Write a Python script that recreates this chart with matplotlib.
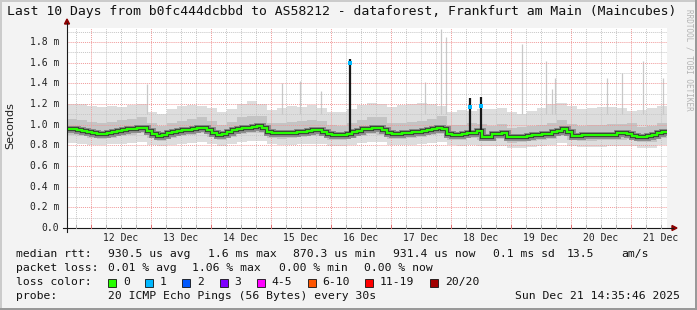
import numpy as np
import matplotlib
matplotlib.use("Agg")
import matplotlib.pyplot as plt
from matplotlib.patches import Rectangle, Polygon
from matplotlib.transforms import offset_copy

# ---------------- data ----------------
# median rtt in ms, 2-hour steps from Dec 11 14:35:46
median_ms = [0.958, 0.955, 0.945, 0.937, 0.928, 0.918, 0.908, 0.912, 0.922, 0.932,
             0.940, 0.948, 0.954, 0.957, 0.970, 0.970, 0.940, 0.907, 0.890, 0.903,
             0.920, 0.930, 0.939, 0.946, 0.952, 0.958, 0.965, 0.972, 0.950, 0.918,
             0.900, 0.912, 0.928, 0.946, 0.960, 0.966, 0.971, 0.979, 0.988, 0.965,
             0.932, 0.916, 0.915, 0.916, 0.919, 0.924, 0.929, 0.934, 0.939, 0.946,
             0.953, 0.933, 0.910, 0.902, 0.899, 0.899, 0.910, 0.930, 0.943, 0.955,
             0.961, 0.968, 0.972, 0.948, 0.920, 0.910, 0.909, 0.915, 0.921, 0.928,
             0.933, 0.940, 0.950, 0.962, 0.966, 0.962, 0.907, 0.905, 0.905, 0.908,
             0.920, 0.924, 0.935, 0.882, 0.885, 0.910, 0.914, 0.916, 0.880, 0.877,
             0.879, 0.885, 0.892, 0.898, 0.903, 0.908, 0.912, 0.925, 0.940, 0.954,
             0.925, 0.895, 0.891, 0.897, 0.899, 0.899, 0.902, 0.905, 0.905, 0.905,
             0.918, 0.921, 0.912, 0.891, 0.881, 0.882, 0.894, 0.904, 0.918, 0.930]

# smoke envelope in ms, 4-hour steps
smoke_top = [1.20, 1.20, 1.18, 1.17, 1.18, 1.17, 1.19, 1.20, 1.12, 1.10,
             1.15, 1.18, 1.19, 1.18, 1.16, 1.12, 1.15, 1.20, 1.23, 1.20,
             1.14, 1.16, 1.18, 1.17, 1.19, 1.16, 1.12, 1.12, 1.15, 1.19,
             1.21, 1.20, 1.17, 1.19, 1.20, 1.21, 1.20, 1.18, 1.12, 1.14,
             1.13, 1.15, 1.15, 1.16, 1.12, 1.10, 1.13, 1.16, 1.20, 1.21,
             1.18, 1.15, 1.16, 1.17, 1.17, 1.16, 1.13, 1.14, 1.16, 1.18]
smoke_upper = [1.06, 1.05, 1.03, 1.02, 1.03, 1.05, 1.06, 1.07, 1.02, 0.99,
               1.02, 1.04, 1.06, 1.07, 1.04, 1.00, 1.03, 1.07, 1.08, 1.08,
               1.02, 1.02, 1.03, 1.04, 1.05, 1.04, 1.00, 0.99, 1.02, 1.05,
               1.07, 1.07, 1.02, 1.02, 1.03, 1.04, 1.06, 1.08, 1.00, 1.00,
               1.02, 1.01, 0.99, 1.01, 0.97, 0.98, 0.99, 1.00, 1.02, 1.05,
               1.01, 0.99, 1.00, 1.00, 1.01, 1.01, 1.02, 0.98, 0.99, 1.02]
smoke_lower = [0.900, 0.890, 0.875, 0.860, 0.875, 0.890, 0.900, 0.915, 0.870, 0.845,
               0.870, 0.890, 0.900, 0.915, 0.880, 0.855, 0.885, 0.910, 0.920, 0.920,
               0.870, 0.865, 0.870, 0.880, 0.890, 0.890, 0.855, 0.850, 0.870, 0.895,
               0.910, 0.905, 0.865, 0.860, 0.870, 0.885, 0.900, 0.910, 0.855, 0.855,
               0.870, 0.855, 0.845, 0.860, 0.825, 0.830, 0.840, 0.850, 0.865, 0.895,
               0.855, 0.840, 0.845, 0.850, 0.850, 0.855, 0.860, 0.835, 0.835, 0.870]
smoke_bottom = [0.820, 0.810, 0.800, 0.800, 0.810, 0.815, 0.820, 0.830, 0.800, 0.790,
                0.800, 0.810, 0.820, 0.830, 0.810, 0.790, 0.810, 0.830, 0.840, 0.840,
                0.810, 0.800, 0.800, 0.810, 0.815, 0.815, 0.790, 0.790, 0.800, 0.820,
                0.830, 0.830, 0.800, 0.800, 0.800, 0.810, 0.820, 0.830, 0.800, 0.790,
                0.800, 0.790, 0.790, 0.790, 0.770, 0.770, 0.780, 0.790, 0.800, 0.820,
                0.790, 0.780, 0.780, 0.780, 0.790, 0.790, 0.790, 0.770, 0.770, 0.800]

# isolated single-ping outliers (hours after start, ms)
spike_hours = [32.0, 86.0, 93.2, 101.6, 143.2, 149.6, 151.6, 182.0, 191.6,
               194.0, 195.2, 216.0, 222.0, 230.4, 238.4]
spike_top_ms = [1.39, 1.40, 1.42, 1.33, 1.41, 1.93, 1.85, 1.78, 1.62,
                1.35, 1.45, 1.45, 1.50, 1.62, 1.45]

# short bursts where the median itself jumped (1 lost ping -> blue)
burst_hours = [113.0, 161.2, 165.6]
burst_median_ms = [1.60, 1.17, 1.18]
burst_top_ms = [1.64, 1.26, 1.27]
burst_base_ms = [0.93, 0.93, 0.95]

day_labels = ["12 Dec", "13 Dec", "14 Dec", "15 Dec", "16 Dec",
              "17 Dec", "18 Dec", "19 Dec", "20 Dec", "21 Dec"]
ytick_vals = [0.0, 0.2, 0.4, 0.6, 0.8, 1.0, 1.2, 1.4, 1.6, 1.8]
ytick_labels = ["0.0", "0.2 m", "0.4 m", "0.6 m", "0.8 m", "1.0 m",
                "1.2 m", "1.4 m", "1.6 m", "1.8 m"]

title = "Last 10 Days from b0fc444dcbbd to AS58212 - dataforest, Frankfurt am Main (Maincubes)"
rtt_items = ["median rtt:", "930.5 us avg", "1.6 ms max", "870.3 us min",
             "931.4 us now", "0.1 ms sd", "13.5", "am/s"]
loss_items = ["packet loss:", "0.01 % avg", "1.06 % max", "0.00 % min", "0.00 % now"]
loss_labels = ["0", "1", "2", "3", "4-5", "6-10", "11-19", "20/20"]
loss_colors = ["#26ff00", "#00b8ff", "#0059ff", "#7e00ff", "#ff00ff",
               "#ff5500", "#ff0000", "#a10000"]
probe_text = "20 ICMP Echo Pings (56 Bytes) every 30s"
stamp_text = "Sun Dec 21 14:35:46 2025"

# ---------------- layout ----------------
W, H = 697, 310
MONO = "DejaVu Sans Mono"
fig = plt.figure(figsize=(W / 100, H / 100), dpi=100, facecolor="#f3f3f3")


def fx(px):
    return px / W


def fy(py):
    return 1 - py / H


ax = fig.add_axes([fx(67), fy(228), 600 / W, 200 / H])
ax.set_facecolor("white")
ax.set_xlim(0, 10)
ax.set_ylim(0, 200 / 103.3)
for s in ax.spines.values():
    s.set_visible(False)
ax.set_xticks([])
ax.set_yticks([])

start_frac = (14 * 3600 + 35 * 60 + 46) / 86400.0
first_midnight = 1 - start_frac

# smoke
t_env = np.arange(len(smoke_top) + 1) * 4 / 24
ax.stairs(smoke_top, t_env, baseline=smoke_bottom, fill=True, color="#dddddd", lw=0, zorder=1)
ax.stairs(smoke_upper, t_env, baseline=smoke_lower, fill=True, color="#c4c4c4", lw=0, zorder=1.1)
ax.vlines(np.array(spike_hours) / 24, 1.10, spike_top_ms, colors="#c8c8c8", lw=0.9, zorder=1.2)

# grid on top of the smoke
minor_grid = dict(color="#c6c6c6", lw=0.7, ls=(0, (1, 1)), zorder=2)
major_grid = dict(color="#f09a9a", lw=0.7, ls=(0, (1, 1)), zorder=2.1)
for k in range(1, 20):
    v = k * 0.1
    if v > 1.93:
        break
    if k % 2 == 0:
        ax.axhline(v, **major_grid)
    else:
        ax.axhline(v, **minor_grid)
k = -4
while True:
    xq = first_midnight + k * 0.25
    k += 1
    if xq < 0:
        continue
    if xq > 10:
        break
    if (k - 1) % 4 == 0:
        ax.axvline(xq, **major_grid)
    else:
        ax.axvline(xq, **minor_grid)

# median line
t_med = np.arange(len(median_ms) + 1) * 2 / 24
ax.stairs(median_ms, t_med, baseline=None, color="#8c8c8c", lw=5.0, zorder=3)
ax.stairs(median_ms, t_med, baseline=None, color="#3a3a3a", lw=3.0, zorder=3.1)
ax.stairs(median_ms, t_med, baseline=None, color=loss_colors[0], lw=1.6, zorder=3.2)

# bursts
bt = np.array(burst_hours) / 24
ax.vlines(bt, burst_base_ms, burst_top_ms, colors="#1a1a1a", lw=1.6, zorder=4)
ax.plot(bt, burst_median_ms, ls="none", marker="s", ms=2.2, mew=0,
        color=loss_colors[1], zorder=4.1)

# tick labels
ylab_tr = offset_copy(ax.transData, fig=fig, x=-8, y=0, units="dots")
for v, lab in zip(ytick_vals, ytick_labels):
    ax.text(0, v, lab, transform=ylab_tr, ha="right", va="center",
            family=MONO, fontsize=7, color="#222222", clip_on=False)
xlab_tr = offset_copy(ax.transData, fig=fig, x=0, y=-10, units="dots")
for i, lab in enumerate(day_labels):
    ax.text(first_midnight + i + 0.5, 0, lab, transform=xlab_tr, ha="center",
            va="center", family=MONO, fontsize=7, color="#222222", clip_on=False)

# axes with arrows
axis_col = "#1a1a1a"
arrow_col = "#8b0000"
fig.add_artist(plt.Line2D([fx(63), fx(673)], [fy(228), fy(228)], color=axis_col, lw=0.8))
fig.add_artist(plt.Line2D([fx(67), fx(67)], [fy(232), fy(23)], color=axis_col, lw=0.8))
fig.add_artist(Polygon([[fx(672), fy(225.5)], [fx(677), fy(228)], [fx(672), fy(230.5)]],
                       closed=True, color=arrow_col, transform=fig.transFigure))
fig.add_artist(Polygon([[fx(64.5), fy(24)], [fx(67), fy(19)], [fx(69.5), fy(24)]],
                       closed=True, color=arrow_col, transform=fig.transFigure))

# small axis ticks
k = -4
while True:
    xq = first_midnight + k * 0.25
    k += 1
    if xq < 0:
        continue
    if xq > 10:
        break
    px = 67 + xq * 60
    col = "#e07070" if (k - 1) % 4 == 0 else "#aaaaaa"
    fig.add_artist(plt.Line2D([fx(px), fx(px)], [fy(228), fy(225)], color=col, lw=0.7))

# title and labels
fig.text(fx(7), fy(12), title, family=MONO, fontsize=9.45, ha="left", va="center", color="#111111")
fig.text(fx(10), fy(126), "Seconds", family="DejaVu Sans", fontsize=8, rotation=90,
         ha="center", va="center", color="#222222")
fig.text(fx(689), fy(60), "RRDTOOL / TOBI OETIKER", family=MONO, fontsize=5.5,
         rotation=270, ha="center", va="center", color="#b4b4b4")

# legend rows
leg_fs = 8.2
rtt_x = [16, 107.5, 208, 293, 393, 493, 567, 621]
for x0, s in zip(rtt_x, rtt_items):
    fig.text(fx(x0), fy(254), s, family=MONO, fontsize=leg_fs, ha="left", va="center", color="#111111")
loss_x = [16, 107.5, 192, 279, 364]
for x0, s in zip(loss_x, loss_items):
    fig.text(fx(x0), fy(268), s, family=MONO, fontsize=leg_fs, ha="left", va="center", color="#111111")
fig.text(fx(16), fy(282), "loss color:", family=MONO, fontsize=leg_fs, ha="left", va="center", color="#111111")
box_x = [108, 145, 182, 219.5, 256.5, 307.5, 365, 430]
for x0, lab, col in zip(box_x, loss_labels, loss_colors):
    fig.add_artist(Rectangle((fx(x0), fy(286.5)), 8 / W, 8 / H, facecolor=col,
                             edgecolor="#111111", lw=0.6, transform=fig.transFigure))
    fig.text(fx(x0 + 15), fy(282), lab, family=MONO, fontsize=leg_fs, ha="left",
             va="center", color="#111111")
fig.text(fx(16), fy(296), "probe:", family=MONO, fontsize=leg_fs, ha="left", va="center", color="#111111")
fig.text(fx(107.5), fy(296), probe_text, family=MONO, fontsize=leg_fs, ha="left", va="center", color="#111111")
fig.text(fx(680), fy(296), stamp_text, family=MONO, fontsize=leg_fs, ha="right", va="center", color="#111111")

# outer shading frame
fig.add_artist(Rectangle((0, 0), 2 / W, 1, facecolor="#cbcbcb", lw=0, transform=fig.transFigure))
fig.add_artist(Rectangle((0, 1 - 2 / H), 1, 2 / H, facecolor="#cbcbcb", lw=0, transform=fig.transFigure))
fig.add_artist(Rectangle((1 - 2 / W, 0), 2 / W, 1, facecolor="#999999", lw=0, transform=fig.transFigure))
fig.add_artist(Rectangle((0, 0), 1, 2 / H, facecolor="#999999", lw=0, transform=fig.transFigure))

fig.savefig("out.png", dpi=100, facecolor=fig.get_facecolor())
